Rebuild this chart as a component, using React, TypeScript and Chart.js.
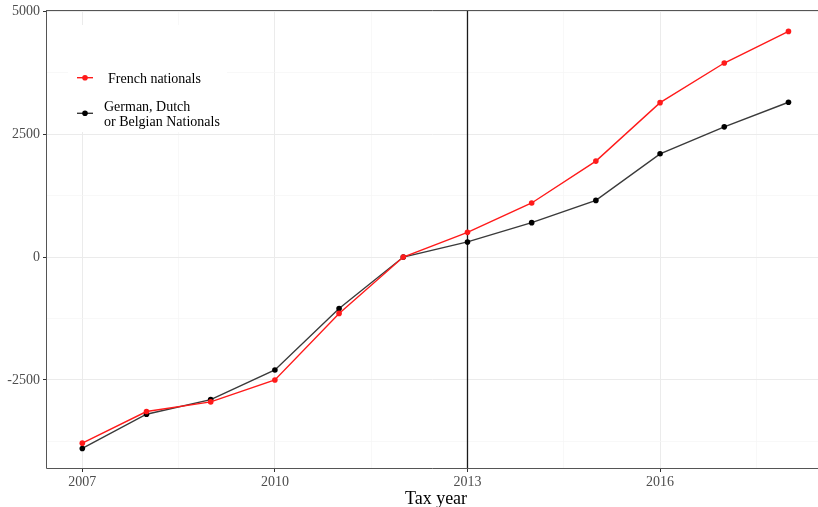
import React, { useEffect, useRef } from "react";
import { Chart, registerables } from "chart.js";

Chart.register(...registerables);

const years = [2007, 2008, 2009, 2010, 2011, 2012, 2013, 2014, 2015, 2016, 2017, 2018];
const french = [-3785, -3141, -2946, -2500, -1146, 0, 503, 1100, 1952, 3141, 3947, 4590];
const german = [-3892, -3196, -2898, -2297, -1045, 0, 308, 700, 1153, 2100, 2648, 3149];

const yMajorTicks = [-2500, 0, 2500, 5000];
const yMinorTicks = [-3750, -1250, 1250, 3750];
const xMajorTicks = [2007, 2010, 2013, 2016];
const xMinorTicks = [2008.5, 2011.5, 2014.5, 2017.5];

const seriesNames = [" French nationals", "German, Dutch\nor Belgian Nationals"];
const xTitle = "Tax year";
const vlineYear = 2013;

const FONT = '"Liberation Serif", "DejaVu Serif", serif';
const RED = "#ff1a1a";
const DARK = "#3a3a3a";

export default function App() {
  const ref = useRef<HTMLCanvasElement | null>(null);

  useEffect(() => {
    const canvas = ref.current;
    if (!canvas) return;

    const isMajor = (list: number[], v: number) => list.some((m) => Math.abs(m - v) < 1e-6);

    const overlay = {
      id: "overlay",
      beforeDatasetsDraw(chart: any) {
        const { ctx, chartArea, scales } = chart;
        const x = scales.x.getPixelForValue(vlineYear);
        ctx.save();
        ctx.strokeStyle = "#1a1a1a";
        ctx.lineWidth = 1.3;
        ctx.beginPath();
        ctx.moveTo(x, chartArea.top);
        ctx.lineTo(x, chartArea.bottom);
        ctx.stroke();
        ctx.restore();
      },
      afterDraw(chart: any) {
        const { ctx, chartArea } = chart;
        ctx.save();
        // panel border (top, left, bottom)
        ctx.strokeStyle = "#555555";
        ctx.lineWidth = 1;
        ctx.beginPath();
        ctx.moveTo(chartArea.left - 0.5, chartArea.top + 0.5);
        ctx.lineTo(chartArea.right + 2, chartArea.top + 0.5);
        ctx.moveTo(chartArea.left - 0.5, chartArea.top);
        ctx.lineTo(chartArea.left - 0.5, chartArea.bottom + 0.5);
        ctx.lineTo(chartArea.right + 2, chartArea.bottom + 0.5);
        ctx.stroke();

        // legend
        ctx.fillStyle = "#ffffff";
        ctx.fillRect(68, 25, 159, 107);
        const keys = [
          { y: 77.7, line: RED, pt: RED },
          { y: 113.3, line: DARK, pt: "#000000" },
        ];
        keys.forEach((k) => {
          ctx.strokeStyle = k.line;
          ctx.lineWidth = 1.4;
          ctx.beginPath();
          ctx.moveTo(77, k.y);
          ctx.lineTo(93, k.y);
          ctx.stroke();
          ctx.fillStyle = k.pt;
          ctx.beginPath();
          ctx.arc(85, k.y, 2.8, 0, Math.PI * 2);
          ctx.fill();
        });
        ctx.fillStyle = "#000000";
        ctx.font = "14px " + FONT;
        ctx.textAlign = "left";
        ctx.textBaseline = "alphabetic";
        ctx.fillText(seriesNames[0], 104.5, 83.3);
        const lines = seriesNames[1].split("\n");
        ctx.fillText(lines[0], 104, 111);
        ctx.fillText(lines[1], 104, 126);

        // axis title
        ctx.font = "18px " + FONT;
        ctx.textAlign = "center";
        ctx.fillText(xTitle, 436, 503.5);
        ctx.restore();
      },
    };

    const chart = new Chart(canvas, {
      type: "line",
      data: {
        datasets: [
          {
            label: seriesNames[0],
            data: years.map((y, i) => ({ x: y, y: french[i] })),
            borderColor: RED,
            backgroundColor: RED,
            pointBackgroundColor: RED,
            borderWidth: 1.4,
            pointRadius: 2.8,
            pointBorderWidth: 0,
            order: 0,
          },
          {
            label: seriesNames[1],
            data: years.map((y, i) => ({ x: y, y: german[i] })),
            borderColor: DARK,
            backgroundColor: "#000000",
            pointBackgroundColor: "#000000",
            borderWidth: 1.4,
            pointRadius: 2.8,
            pointBorderWidth: 0,
            order: 1,
          },
        ],
      },
      options: {
        animation: false,
        responsive: false,
        devicePixelRatio: 1,
        layout: { autoPadding: false, padding: { top: 10, right: 0, left: 0, bottom: 0 } },
        plugins: {
          legend: { display: false },
          tooltip: { enabled: false },
        },
        scales: {
          x: {
            type: "linear",
            min: 2006.45,
            max: 2018.46,
            afterBuildTicks: (s: any) => {
              s.ticks = [...xMajorTicks, ...xMinorTicks].sort((a, b) => a - b).map((v) => ({ value: v }));
            },
            afterFit: (s: any) => {
              s.height = 39;
              s.paddingLeft = 0;
              s.paddingRight = 0;
            },
            border: { display: false },
            grid: {
              color: (c: any) => (c.tick && isMajor(xMajorTicks, c.tick.value) ? "#ebebeb" : "#f5f5f5"),
              lineWidth: (c: any) => (c.tick && isMajor(xMajorTicks, c.tick.value) ? 1 : 0.7),
              tickColor: (c: any) => (c.tick && isMajor(xMajorTicks, c.tick.value) ? "#333333" : "rgba(0,0,0,0)"),
              tickLength: 4,
              tickWidth: 1,
            },
            ticks: {
              autoSkip: false,
              maxRotation: 0,
              padding: 2,
              color: "#4d4d4d",
              font: { family: FONT, size: 14 },
              callback: (v: any) => (isMajor(xMajorTicks, Number(v)) ? String(v) : ""),
            },
          },
          y: {
            type: "linear",
            min: -4290,
            max: 5025,
            afterBuildTicks: (s: any) => {
              s.ticks = [...yMajorTicks, ...yMinorTicks].sort((a, b) => a - b).map((v) => ({ value: v }));
            },
            afterFit: (s: any) => {
              s.width = 47;
              s.paddingTop = 0;
              s.paddingBottom = 0;
            },
            border: { display: false },
            grid: {
              color: (c: any) => (c.tick && isMajor(yMajorTicks, c.tick.value) ? "#ebebeb" : "#f5f5f5"),
              lineWidth: (c: any) => (c.tick && isMajor(yMajorTicks, c.tick.value) ? 1 : 0.7),
              tickColor: (c: any) => (c.tick && isMajor(yMajorTicks, c.tick.value) ? "#333333" : "rgba(0,0,0,0)"),
              tickLength: 4,
              tickWidth: 1,
            },
            ticks: {
              autoSkip: false,
              padding: 3,
              color: "#4d4d4d",
              font: { family: FONT, size: 14 },
              callback: (v: any) => (isMajor(yMajorTicks, Number(v)) ? String(v) : ""),
            },
          },
        },
      },
      plugins: [overlay],
    } as any);

    return () => chart.destroy();
  }, []);

  return (
    <div style={{ position: "absolute", left: 0, top: 0, width: 818, height: 507, background: "#ffffff" }}>
      <canvas ref={ref} width={818} height={507} style={{ display: "block", width: 818, height: 507 }} />
    </div>
  );
}
